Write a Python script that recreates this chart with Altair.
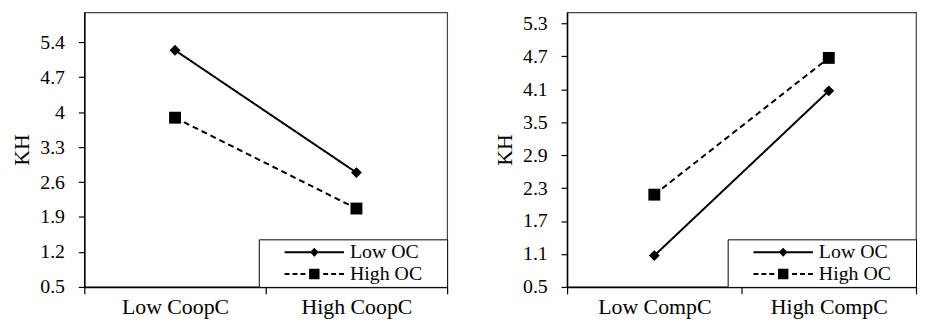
import altair as alt
import pandas as pd

# ---------------- data ----------------
series = ["Low OC", "High OC"]

left_categories = ["Low CoopC", "High CoopC"]
left_low_oc = [5.24, 2.79]
left_high_oc = [3.89, 2.07]
left_ticks = [0.5, 1.2, 1.9, 2.6, 3.3, 4.0, 4.7, 5.4]
left_domain = [0.5, 6.0]

right_categories = ["Low CompC", "High CompC"]
right_low_oc = [1.07, 4.07]
right_high_oc = [2.18, 4.67]
right_ticks = [0.5, 1.1, 1.7, 2.3, 2.9, 3.5, 4.1, 4.7, 5.3]
right_domain = [0.5, 5.5]

FONT = "Liberation Serif"

# legend symbol paths (filled shapes: line + marker), unit = sqrt(symbolSize)/2 px
solid_path = ("M-10.6,0Z M26,0Z "
              "M-6,-0.2L6,-0.2L6,0.2L-6,0.2Z "
              "M0,-0.9L0.9,0L0,0.9L-0.9,0Z")
dashed_path = ("M-10.6,0Z M26,0Z "
               "M-6,-0.2L-5,-0.2L-5,0.2L-6,0.2Z "
               "M-4.4,-0.2L-3.4,-0.2L-3.4,0.2L-4.4,0.2Z "
               "M-2.8,-0.2L-1.8,-0.2L-1.8,0.2L-2.8,0.2Z "
               "M1.8,-0.2L2.8,-0.2L2.8,0.2L1.8,0.2Z "
               "M3.4,-0.2L4.4,-0.2L4.4,0.2L3.4,0.2Z "
               "M5,-0.2L6,-0.2L6,0.2L5,0.2Z "
               "M-1.05,-1.05L1.05,-1.05L1.05,1.05L-1.05,1.05Z")


def panel(categories, low, high, ticks, domain, width, height):
    df = pd.DataFrame({
        "cat": list(categories) * 2,
        "series": [series[0]] * len(categories) + [series[1]] * len(categories),
        "KH": list(low) + list(high),
    })
    x = alt.X(
        "cat:N", sort=list(categories),
        scale=alt.Scale(type="band", paddingInner=0, paddingOuter=0),
        axis=alt.Axis(title=None, labelAngle=0, tickBand="extent", tickSize=7,
                      labelFontSize=22, labelPadding=3, domainWidth=1.5),
    )
    y = alt.Y(
        "KH:Q",
        scale=alt.Scale(domain=domain, nice=False, zero=False),
        axis=alt.Axis(title="KH", values=ticks, format="~g", tickSize=6,
                      labelFontSize=20, labelPadding=14, titleFontSize=22,
                      titlePadding=6, domainWidth=1.5),
    )
    base = alt.Chart(df).encode(x=x, y=y)
    lines = base.mark_line(color="black", strokeWidth=2).encode(
        strokeDash=alt.StrokeDash(
            "series:N",
            scale=alt.Scale(domain=series, range=[[1, 0], [6, 4]]),
            legend=None,
        )
    )
    points = base.mark_point(filled=True, opacity=1, color="black").encode(
        shape=alt.Shape("series:N",
                        scale=alt.Scale(domain=series, range=["diamond", "square"]),
                        legend=None),
        size=alt.Size("series:O",
                      scale=alt.Scale(domain=series, range=[121, 144]),
                      legend=None),
    )
    legend = alt.Legend(
        title=None, orient="bottom-right", offset=0, padding=3,
        strokeColor="black", fillColor="white",
        labelFont=FONT, labelFontSize=20, labelColor="black",
        labelOffset=26, symbolOffset=43, rowPadding=2,
        symbolSize=100, symbolStrokeWidth=0.1, symbolStrokeColor="black",
        symbolFillColor="black", symbolOpacity=1,
    )
    # legend-only layer: no rows drawn, the legend comes from its shape scale
    legend_layer = base.transform_filter("false").mark_point(
        filled=True, fill="black", stroke="black", strokeWidth=0.1, opacity=1
    ).encode(
        shape=alt.Shape("series:N",
                        scale=alt.Scale(domain=series, range=[solid_path, dashed_path]),
                        legend=legend),
    )
    return (
        alt.layer(legend_layer, lines, points)
        .resolve_scale(shape="independent")
        .properties(width=width, height=height)
    )


left = panel(left_categories, left_low_oc, left_high_oc, left_ticks, left_domain, 366, 277)
right = panel(right_categories, right_low_oc, right_high_oc, right_ticks, right_domain, 352, 277)

chart = (
    alt.hconcat(left, right, spacing=44)
    .resolve_scale(shape="independent", size="independent", strokeDash="independent")
    .resolve_legend(shape="independent")
    .properties(padding={"left": 2, "top": 2, "right": 0, "bottom": 0},
                background="white")
    .configure_view(stroke="#444", strokeWidth=1.2)
    .configure_axis(labelFont=FONT, titleFont=FONT, labelColor="black",
                    titleColor="black", titleFontWeight="normal",
                    domainColor="black", tickColor="black", tickWidth=1.2,
                    grid=False)
)

chart.save("out.html", embed_options={"renderer": "svg", "actions": False})
